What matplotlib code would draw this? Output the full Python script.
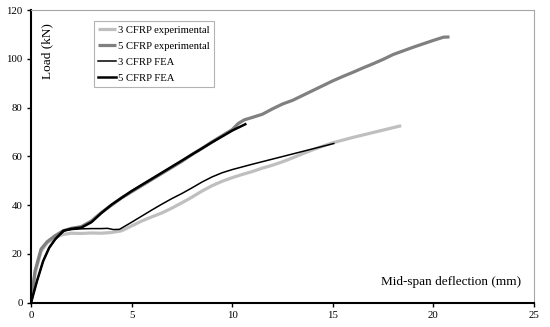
import matplotlib
matplotlib.use("Agg")
import matplotlib.pyplot as plt

plt.rcParams['font.family'] = ['Liberation Serif', 'DejaVu Serif']

# --- data ---
x_3exp = [0, 0.2, 0.5, 0.8, 1.2, 1.6, 2.0, 2.5, 3.0, 3.5, 4.0, 4.5, 5.0, 5.5, 6.0, 6.5, 7.0, 7.5,
          8.0, 8.5, 9.0, 9.5, 10.0, 10.5, 11.0, 11.5, 12.0, 12.5, 13.0, 13.5, 14.0, 14.5, 15.0,
          15.5, 16.0, 16.5, 17.0, 17.5, 18.0, 18.4]
y_3exp = [0, 12, 21, 24.5, 26.8, 28.0, 28.5, 28.4, 28.6, 28.5, 28.8, 29.5, 31.5, 33.5, 35.2, 36.8,
          38.8, 41, 43.3, 45.8, 48, 49.8, 51.3, 52.6, 53.8, 55.2, 56.4, 57.8, 59.4, 61.1, 62.7,
          64.2, 65.6, 66.7, 67.8, 68.8, 69.8, 70.8, 71.8, 72.6]

x_5exp = [0, 0.2, 0.5, 0.8, 1.2, 1.6, 2.0, 2.5, 3.0, 3.5, 4.0, 4.5, 5.0, 5.5, 6.0, 6.5, 7.0, 7.5,
          8.0, 8.5, 9.0, 9.5, 10.0, 10.3, 10.6, 11.0, 11.5, 12.0, 12.5, 13.0, 13.5, 14.0, 14.5,
          15.0, 15.5, 16.0, 16.5, 17.0, 17.5, 18.0, 18.5, 19.0, 19.5, 20.0, 20.5, 20.8]
y_5exp = [0, 13, 22, 25, 27.5, 29.5, 30.5, 31.2, 33.5, 37, 40, 43, 45.5, 48, 50.5, 53, 55.5, 58,
          60.8, 63.3, 66, 68.5, 71, 73.5, 75, 76, 77.3, 79.5, 81.5, 83, 85, 87, 89, 91, 92.8,
          94.5, 96.3, 98, 99.8, 101.8, 103.3, 104.8, 106.2, 107.6, 108.9, 109]

x_3fea = [0, 0.3, 0.6, 0.9, 1.2, 1.7, 2.0, 2.5, 3.0, 3.5, 3.8, 4.1, 4.4, 5.0, 5.5, 6.0, 6.5, 7.0,
          7.5, 8.0, 8.5, 9.0, 9.5, 10.0, 11.0, 12.0, 13.0, 14.0, 15.05]
y_3fea = [0, 9, 17, 22.5, 26, 29.8, 30.0, 30.3, 30.4, 30.4, 30.5, 30.0, 30.1, 33.0, 35.5, 38.0,
          40.4, 42.7, 44.8, 47.1, 49.5, 51.6, 53.3, 54.6, 56.8, 58.9, 61.0, 63.1, 65.3]

x_5fea = [0, 0.3, 0.6, 0.9, 1.2, 1.6, 2.0, 2.5, 3.0, 3.5, 4.0, 5.0, 6.0, 7.0, 8.0, 9.0, 10.0, 10.65]
y_5fea = [0, 9, 17, 22.5, 26, 29.5, 30.3, 30.8, 33, 36.8, 40.2, 45.8, 50.8, 55.8, 60.8, 65.8,
          70.6, 73.2]

labels = ["3 CFRP experimental", "5 CFRP experimental", "3 CFRP FEA", "5 CFRP FEA"]
x_ticks = [0, 5, 10, 15, 20, 25]
y_ticks = [0, 20, 40, 60, 80, 100, 120]

fig = plt.figure(figsize=(5.5, 3.27), dpi=100)
ax = fig.add_axes([0.0564, 0.0743, 0.9145, 0.8947])

ax.plot(x_3exp, y_3exp, color='#BFBFBF', lw=2.3, label=labels[0], solid_capstyle='butt')
ax.plot(x_5exp, y_5exp, color='#808080', lw=2.3, label=labels[1], solid_capstyle='butt')
ax.plot(x_3fea, y_3fea, color='black', lw=1.1, label=labels[2])
ax.plot(x_5fea, y_5fea, color='black', lw=1.8, label=labels[3])

ax.set_xlim(0, 25)
ax.set_ylim(0, 120)
ax.set_xticks(x_ticks)
ax.set_yticks(y_ticks)
ax.tick_params(axis='both', labelsize=7.8, colors='black', direction='out', length=3, width=1,
               pad=3)

for s in ['left', 'bottom']:
    ax.spines[s].set_color('black')
    ax.spines[s].set_linewidth(1.5)
for s in ['top', 'right']:
    ax.spines[s].set_color('#A6A6A6')
    ax.spines[s].set_linewidth(0.8)

ax.text(0.033, 0.86, "Load (kN)", transform=ax.transAxes, rotation=90,
        ha='center', va='center', fontsize=9.5)
ax.text(0.975, 0.07, "Mid-span deflection (mm)", transform=ax.transAxes,
        ha='right', va='center', fontsize=9.5)

leg = ax.legend(loc='upper left', bbox_to_anchor=(0.1255, 0.962), fontsize=7.7,
                frameon=True, fancybox=False, edgecolor='#A0A0A0', handlelength=1.6,
                handletextpad=0.2, borderpad=0.4, labelspacing=0.6, borderaxespad=0)
leg.get_frame().set_linewidth(0.8)

fig.savefig("out.png", dpi=100)
